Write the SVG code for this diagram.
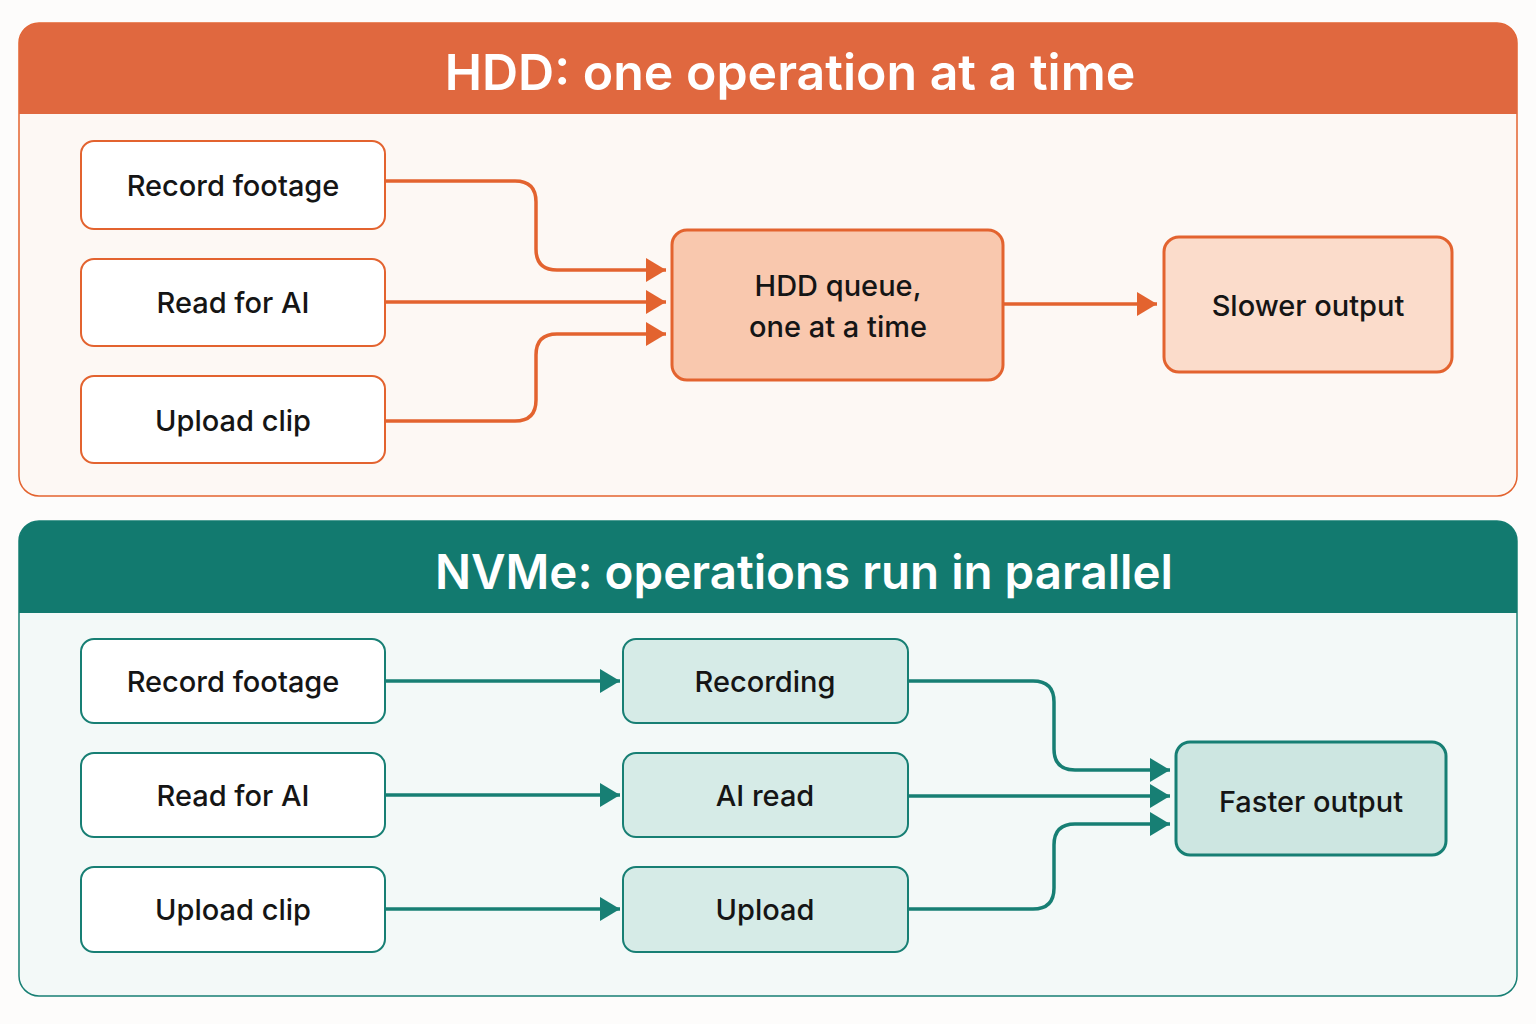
<svg xmlns="http://www.w3.org/2000/svg" width="1536" height="1024" viewBox="0 0 1536 1024">
<style>
text{font-family:Inter,"Noto Sans","Liberation Sans",sans-serif;fill:#151515;text-anchor:middle;dominant-baseline:central}
.title{font-size:50px;font-weight:600;fill:#ffffff}
.lbl{font-size:29px;font-weight:500}
.on{fill:#ffffff;stroke:#e3632f;stroke-width:2}
.tn{fill:#ffffff;stroke:#177f74;stroke-width:2}
.oc{fill:none;stroke:#e3632f;stroke-width:3.5}
.tc{fill:none;stroke:#177f74;stroke-width:3.5}
</style>
<defs>
<marker id="ao" viewBox="0 0 20 24" refX="20" refY="12" markerWidth="20" markerHeight="24" markerUnits="userSpaceOnUse" orient="auto"><path d="M0 0L20 12L0 24Z" fill="#e3632f"/></marker>
<marker id="at" viewBox="0 0 20 24" refX="20" refY="12" markerWidth="20" markerHeight="24" markerUnits="userSpaceOnUse" orient="auto"><path d="M0 0L20 12L0 24Z" fill="#177f74"/></marker>
</defs>
<rect width="1536" height="1024" fill="#fdfcfb"/>

<g id="hdd-panel">
<rect x="19" y="23" width="1498" height="473" rx="20" fill="#fdf8f4" stroke="#e3632f" stroke-width="1.5"/>
<path d="M19 114V43A20 20 0 0 1 39 23H1497A20 20 0 0 1 1517 43V114Z" fill="#e0683f"/>
<text class="title" x="790" y="72">HDD: one operation at a time</text>
</g>

<g id="nvme-panel">
<rect x="19" y="521" width="1498" height="475" rx="20" fill="#f3f9f8" stroke="#177f74" stroke-width="1.5"/>
<path d="M19 613V541A20 20 0 0 1 39 521H1497A20 20 0 0 1 1517 541V613Z" fill="#127a6f"/>
<text class="title" x="804" y="571" style="font-size:47.5px">NVMe: operations run in parallel</text>
</g>

<g id="connectors">
<path class="oc" d="M385 181H515Q536 181 536 202V249Q536 270 557 270H666" marker-end="url(#ao)"/>
<path class="oc" d="M385 302H666" marker-end="url(#ao)"/>
<path class="oc" d="M385 421H515Q536 421 536 400V355Q536 334 557 334H666" marker-end="url(#ao)"/>
<path class="oc" d="M1003 304H1157" marker-end="url(#ao)"/>
<path class="tc" d="M385 681H620" marker-end="url(#at)"/>
<path class="tc" d="M385 795H620" marker-end="url(#at)"/>
<path class="tc" d="M385 909H620" marker-end="url(#at)"/>
<path class="tc" d="M908 681H1033Q1054 681 1054 702V749Q1054 770 1075 770H1170" marker-end="url(#at)"/>
<path class="tc" d="M908 796H1170" marker-end="url(#at)"/>
<path class="tc" d="M908 909H1033Q1054 909 1054 888V845Q1054 824 1075 824H1170" marker-end="url(#at)"/>
</g>

<g id="hdd-record"><rect class="on" x="81" y="141" width="304" height="88" rx="13"/><text class="lbl" x="233" y="185">Record footage</text></g>
<g id="hdd-read"><rect class="on" x="81" y="259" width="304" height="87" rx="13"/><text class="lbl" x="233" y="302">Read for AI</text></g>
<g id="hdd-upload"><rect class="on" x="81" y="376" width="304" height="87" rx="13"/><text class="lbl" x="233" y="420">Upload clip</text></g>
<g id="hdd-queue"><rect x="672" y="230" width="331" height="150" rx="15" fill="#f9c8ae" stroke="#e3632f" stroke-width="3"/><text class="lbl" x="838" y="285">HDD queue,</text><text class="lbl" x="838" y="326">one at a time</text></g>
<g id="hdd-out"><rect x="1164" y="237" width="288" height="135" rx="15" fill="#fbdccb" stroke="#e3632f" stroke-width="3"/><text class="lbl" x="1308" y="305">Slower output</text></g>

<g id="nvme-record"><rect class="tn" x="81" y="639" width="304" height="84" rx="13"/><text class="lbl" x="233" y="681">Record footage</text></g>
<g id="nvme-read"><rect class="tn" x="81" y="753" width="304" height="84" rx="13"/><text class="lbl" x="233" y="795">Read for AI</text></g>
<g id="nvme-upload"><rect class="tn" x="81" y="867" width="304" height="85" rx="13"/><text class="lbl" x="233" y="909">Upload clip</text></g>
<g id="nvme-recording"><rect x="623" y="639" width="285" height="84" rx="13" fill="#d6ebe7" stroke="#177f74" stroke-width="2"/><text class="lbl" x="765" y="681">Recording</text></g>
<g id="nvme-airead"><rect x="623" y="753" width="285" height="84" rx="13" fill="#d6ebe7" stroke="#177f74" stroke-width="2"/><text class="lbl" x="765" y="795">AI read</text></g>
<g id="nvme-uploadop"><rect x="623" y="867" width="285" height="85" rx="13" fill="#d6ebe7" stroke="#177f74" stroke-width="2"/><text class="lbl" x="765" y="909">Upload</text></g>
<g id="nvme-out"><rect x="1176" y="742" width="270" height="113" rx="14" fill="#cde6e1" stroke="#177f74" stroke-width="3"/><text class="lbl" x="1311" y="801">Faster output</text></g>
</svg>
